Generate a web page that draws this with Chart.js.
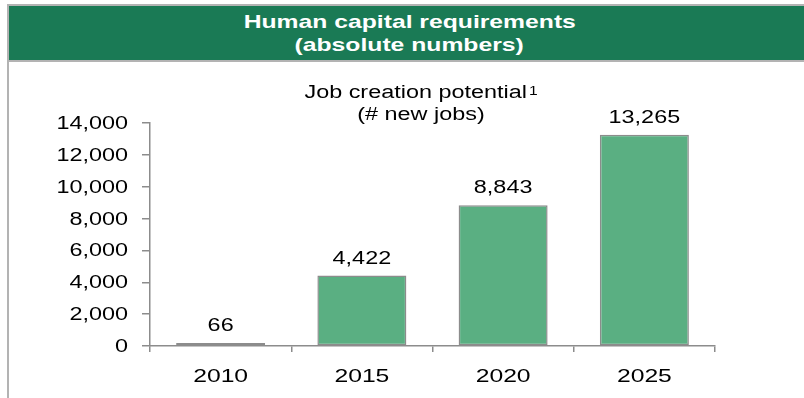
<!DOCTYPE html>
<html>
<head>
<meta charset="utf-8">
<script src="https://cdn.jsdelivr.net/npm/chart.js@4.4.1/dist/chart.umd.min.js"></script>
<style>
  html, body { margin: 0; padding: 0; background: #fff; }
  #frame { position: relative; width: 804px; height: 398px; overflow: hidden; }
  #topline { position: absolute; left: 7px; top: 4px; width: 797px; height: 2px; background: #b3b3b3; }
  #leftline { position: absolute; left: 7px; top: 4px; width: 2px; height: 394px; background: #b3b3b3; }
  #header { position: absolute; left: 9px; top: 6px; width: 795px; height: 54px; background: #1a7a55; }
  #header div { position: absolute; left: 0; width: 795px; text-align: center; color: #fff;
                font-family: "Liberation Sans", Arial, sans-serif; font-weight: bold; font-size: 19px; line-height: 19px; }
  #header span { display: inline-block; transform: scaleX(1.3); transform-origin: 50% 50%; }
  #underline { position: absolute; left: 9px; top: 60px; width: 795px; height: 2px; background: #b3b3b3; }
  #chartbox { position: absolute; left: 0; top: 0; width: 804px; height: 398px; }
</style>
</head>
<body>
<div id="frame">
  <div id="chartbox"><canvas id="c" width="804" height="398"></canvas></div>
  <div id="topline"></div>
  <div id="leftline"></div>
  <div id="header">
    <div style="top: 6px; margin-left: 3px;"><span>Human capital requirements</span></div>
    <div style="top: 29px; margin-left: 3px;"><span>(absolute numbers)</span></div>
  </div>
  <div id="underline"></div>
</div>
<script>
const categories = ["2010", "2015", "2020", "2025"];
const newJobs = [66, 4422, 8843, 13265];
const yTicks = [0, 2000, 4000, 6000, 8000, 10000, 12000, 14000];
const titleLines = ["Job creation potential", "(# new jobs)"];
const titleNote = "1";

const FONT = '"Liberation Sans", Arial, sans-serif';
const STRETCH = 1.3;   // the deck's text is set wide
const fmt = v => v.toLocaleString("en-US");

function wideText(ctx, text, x, y, align, size) {
  ctx.save();
  ctx.font = size + "px " + FONT;
  ctx.translate(x, y);
  ctx.scale(STRETCH, 1);
  ctx.textAlign = align;
  ctx.fillText(text, 0, 0);
  ctx.restore();
}

// Heading, axis labels and value labels, all set in the wide face
const annotate = {
  id: "annotate",
  afterDraw(chart) {
    const ctx = chart.ctx;
    const xs = chart.scales.x, ys = chart.scales.y;
    ctx.save();
    ctx.fillStyle = "#000";
    ctx.textBaseline = "alphabetic";

    // heading with footnote marker
    const cx = 421;
    ctx.font = "18px " + FONT;
    const w1 = ctx.measureText(titleLines[0]).width * STRETCH;
    ctx.font = "12px " + FONT;
    const wn = ctx.measureText(titleNote).width * STRETCH + 2;
    const x0 = cx - (w1 + wn) / 2;
    wideText(ctx, titleLines[0], x0, 98, "left", 18);
    wideText(ctx, titleNote, x0 + w1 + 2, 95, "left", 12);
    wideText(ctx, titleLines[1], cx, 120, "center", 18);

    // y tick labels
    ctx.textBaseline = "middle";
    yTicks.forEach(v => wideText(ctx, fmt(v), xs.left - 22, ys.getPixelForValue(v) + 1, "right", 18));

    // category labels
    ctx.textBaseline = "alphabetic";
    categories.forEach((c, i) => wideText(ctx, c, xs.getPixelForValue(i), ys.bottom + 36, "center", 19));

    // value labels
    const meta = chart.getDatasetMeta(0);
    meta.data.forEach((bar, i) => {
      wideText(ctx, fmt(chart.data.datasets[0].data[i]), bar.x, bar.y - 12, "center", 18);
    });
    ctx.restore();
  }
};

new Chart(document.getElementById("c"), {
  type: "bar",
  data: {
    labels: categories,
    datasets: [{
      data: newJobs,
      backgroundColor: "#5aaf82",
      borderColor: "#8c8c8c",
      borderWidth: 1.5,
      borderSkipped: false,
      minBarLength: 3,
      categoryPercentage: 1,
      barPercentage: 0.63
    }]
  },
  options: {
    responsive: false,
    animation: false,
    layout: { padding: { top: 123, right: 89, left: 0, bottom: 0 } },
    plugins: { legend: { display: false }, tooltip: { enabled: false }, title: { display: false } },
    scales: {
      x: {
        offset: true,
        grid: { offset: true, drawOnChartArea: false, drawTicks: true, tickLength: 6, color: "#8c8c8c", lineWidth: 1.5 },
        border: { display: true, color: "#8c8c8c", width: 1.5 },
        ticks: { display: false },
        afterFit(scale) { scale.height = 52; }
      },
      y: {
        min: 0, max: 14000,
        afterBuildTicks(scale) { scale.ticks = yTicks.map(v => ({ value: v })); },
        grid: { drawOnChartArea: false, drawTicks: true, tickLength: 8, color: "#8c8c8c", lineWidth: 1.5 },
        border: { display: true, color: "#8c8c8c", width: 1.5 },
        ticks: { display: false },
        afterFit(scale) { scale.width = 150; }
      }
    }
  },
  plugins: [annotate]
});
</script>
</body>
</html>
